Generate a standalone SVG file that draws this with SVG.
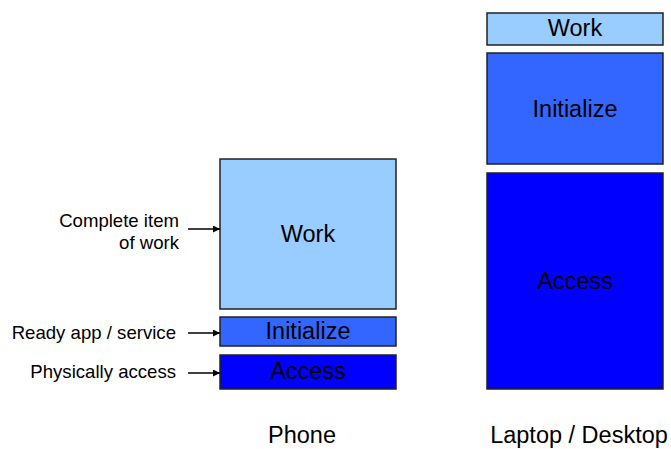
<svg xmlns="http://www.w3.org/2000/svg" width="671" height="449" viewBox="0 0 671 449">
<defs>
<marker id="ah" viewBox="0 0 10 10" refX="10" refY="5" markerWidth="7" markerHeight="7" markerUnits="userSpaceOnUse" orient="auto">
<path d="M0,0 L10,5 L0,10 z" fill="#000"/>
</marker>
</defs>
<style>
.box{stroke:#222;stroke-width:1.5}
.work{fill:#99CCFF}
.init{fill:#3366FF}
.acc{fill:#0000FF}
.big{font-family:"Liberation Sans",Arial,sans-serif;font-size:23.5px;fill:#000;text-anchor:middle}
.lbl{font-family:"Liberation Sans",Arial,sans-serif;font-size:18.6px;fill:#000;text-anchor:end}
.conn{stroke:#000;stroke-width:1.5;fill:none;marker-end:url(#ah)}
</style>
<rect width="671" height="449" fill="#fff"/>
<g id="phone-work"><rect class="box work" x="220" y="159" width="176" height="150"/><text class="big" x="308" y="242">Work</text></g>
<g id="phone-init"><rect class="box init" x="220" y="317" width="176" height="29"/><text class="big" x="308" y="339">Initialize</text></g>
<g id="phone-access"><rect class="box acc" x="220" y="355" width="176" height="34"/><text class="big" x="308" y="379">Access</text></g>
<g id="laptop-work"><rect class="box work" x="487" y="13" width="176" height="32"/><text class="big" x="575" y="36">Work</text></g>
<g id="laptop-init"><rect class="box init" x="487" y="53" width="176" height="111"/><text class="big" x="575" y="117">Initialize</text></g>
<g id="laptop-access"><rect class="box acc" x="487" y="173" width="176" height="216"/><text class="big" x="575" y="289">Access</text></g>
<g id="label-complete"><text class="lbl" x="179" y="227">Complete item</text><text class="lbl" x="179" y="249">of work</text></g>
<g id="label-ready"><text class="lbl" x="176" y="339">Ready app / service</text></g>
<g id="label-phys"><text class="lbl" x="176" y="378">Physically access</text></g>
<g id="caption-phone"><text class="big" x="302" y="443">Phone</text></g>
<g id="caption-laptop"><text class="big" x="579" y="443">Laptop / Desktop</text></g>
<g id="connectors">
<line class="conn" x1="188" y1="229" x2="220" y2="229"/>
<line class="conn" x1="188" y1="333" x2="220" y2="333"/>
<line class="conn" x1="188" y1="373" x2="220" y2="373"/>
</g>
</svg>
